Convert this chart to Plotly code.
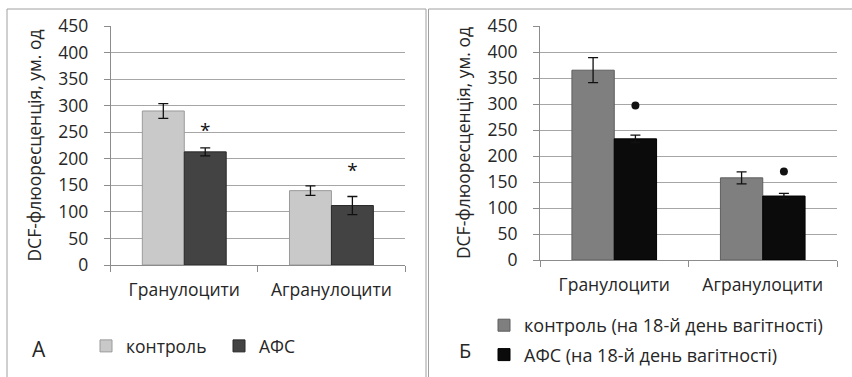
import plotly.graph_objects as go

# ---------------- data ----------------
categories = ["Гранулоцити", "Агранулоцити"]
y_ticks = [0, 50, 100, 150, 200, 250, 300, 350, 400, 450]

# Panel A
a_control = [290, 140]
a_control_err = [14, 9]
a_afs = [213, 112]
a_afs_err = [7.5, 17]
a_sig = [250, 174]          # "*" marks over АФС bars

# Panel Б
b_control = [365, 158]
b_control_err = [24, 11.5]
b_afs = [233, 123]
b_afs_err = [7, 5]
b_sig = [297, 170]          # "●" marks over АФС bars

a_names = ["контроль", "АФС"]
b_names = ["контроль (на 18-й день вагітності)", "АФС (на 18-й день вагітності)"]
y_title = "DCF-флюоресценція, ум. од"

# ---------------- style ----------------
FONT = "Open Sans"
FS = 17.5
TXT = "#262626"
GRID = "#a6a6a6"
AXIS = "#8c8c8c"
BARGAP = 0.43
W, H = 852, 377

x_idx = list(range(len(categories)))
afs_shift = (1 - BARGAP) / 4
x_afs = [i + afs_shift for i in x_idx]

fig = go.Figure()

def err(arr):
    return dict(type="data", array=arr, visible=True, color="#111111",
                thickness=1.3, width=5)

# Panel A bars
fig.add_trace(go.Bar(x=x_idx, y=a_control, name=a_names[0], error_y=err(a_control_err),
                     marker=dict(color="#c9c9c9", line=dict(color="#9a9a9a", width=1)),
                     xaxis="x", yaxis="y", legend="legend", offsetgroup="a1"))
fig.add_trace(go.Bar(x=x_idx, y=a_afs, name=a_names[1], error_y=err(a_afs_err),
                     marker=dict(color="#434343", line=dict(color="#2a2a2a", width=1)),
                     xaxis="x", yaxis="y", legend="legend", offsetgroup="a2"))
fig.add_trace(go.Scatter(x=x_afs, y=a_sig, mode="text", text=["*"] * len(a_sig),
                         textfont=dict(family=FONT, size=19, color="#111111"),
                         showlegend=False, xaxis="x", yaxis="y", hoverinfo="skip"))

# Panel Б bars
fig.add_trace(go.Bar(x=x_idx, y=b_control, name=b_names[0], error_y=err(b_control_err),
                     marker=dict(color="#7f7f7f", line=dict(color="#5e5e5e", width=1)),
                     xaxis="x2", yaxis="y2", legend="legend2", legendgroup="g1",
                     offsetgroup="b1"))
fig.add_trace(go.Bar(x=x_idx, y=b_afs, name=b_names[1], error_y=err(b_afs_err),
                     marker=dict(color="#0b0b0b", line=dict(color="#000000", width=1)),
                     xaxis="x2", yaxis="y2", legend="legend2", legendgroup="g2",
                     offsetgroup="b2"))
fig.add_trace(go.Scatter(x=x_afs, y=b_sig, mode="markers",
                         marker=dict(symbol="circle", size=8, color="#111111"),
                         showlegend=False, xaxis="x2", yaxis="y2", hoverinfo="skip"))

def px_x(p):
    return p / W

def px_y(p):
    return 1 - p / H

xax = dict(
    range=[-0.5, len(categories) - 0.5], tickmode="array", tickvals=x_idx,
    ticktext=categories, ticks="", showgrid=False, zeroline=False,
    showline=True, linecolor=AXIS, linewidth=1, ticklabelstandoff=9,
    tickfont=dict(family=FONT, size=FS, color=TXT),
    minor=dict(tickmode="array", tickvals=[i - 0.5 for i in range(len(categories) + 1)],
               ticks="outside", ticklen=6, tickcolor=AXIS, tickwidth=1, showgrid=False),
    fixedrange=True,
)
yax = dict(
    range=[0, 450], tickmode="array", tickvals=y_ticks, ticks="outside",
    ticklen=6, tickcolor=AXIS, showgrid=True, gridcolor=GRID, gridwidth=1,
    zeroline=False, showline=True, linecolor=AXIS, linewidth=1,
    tickfont=dict(family=FONT, size=FS, color=TXT), ticklabelstandoff=12,
    title=dict(text=y_title, font=dict(family=FONT, size=FS, color=TXT), standoff=12),
    fixedrange=True,
)

fig.update_layout(
    width=W, height=H,
    margin=dict(l=0, r=0, t=0, b=0, autoexpand=False),
    paper_bgcolor="white", plot_bgcolor="white",
    barmode="group", bargap=BARGAP, bargroupgap=0,
    font=dict(family=FONT, color=TXT),
    xaxis=dict(xax, domain=[px_x(110.7), px_x(405)], anchor="y"),
    yaxis=dict(yax, domain=[px_y(265), px_y(26)], anchor="x"),
    xaxis2=dict(xax, domain=[px_x(540), px_x(837)], anchor="y2"),
    yaxis2=dict(yax, domain=[px_y(260), px_y(26)], anchor="x2"),
    legend=dict(orientation="h", x=px_x(86), y=px_y(328), xanchor="left", yanchor="top",
                font=dict(family=FONT, size=FS, color=TXT), entrywidth=88,
                entrywidthmode="pixels", bgcolor="rgba(0,0,0,0)", itemclick=False),
    legend2=dict(orientation="v", x=px_x(484), y=px_y(307), xanchor="left", yanchor="top",
                 font=dict(family=FONT, size=18, color=TXT), tracegroupgap=3,
                 traceorder="grouped", bgcolor="rgba(0,0,0,0)", itemclick=False),
    shapes=[
        dict(type="rect", xref="paper", yref="paper", x0=px_x(7), x1=px_x(426),
             y0=px_y(380), y1=px_y(9), line=dict(color="#a0a0a0", width=1)),
        dict(type="rect", xref="paper", yref="paper", x0=px_x(428.5), x1=px_x(860),
             y0=px_y(380), y1=px_y(9), line=dict(color="#a0a0a0", width=1)),
    ],
    annotations=[
        dict(text="А", xref="paper", yref="paper", x=px_x(39), y=px_y(349),
             xanchor="center", yanchor="middle",
             showarrow=False, font=dict(family=FONT, size=21, color=TXT)),
        dict(text="Б", xref="paper", yref="paper", x=px_x(465), y=px_y(350),
             xanchor="center", yanchor="middle",
             showarrow=False, font=dict(family=FONT, size=20, color=TXT)),
    ],
)

fig.write_html("out.html")
